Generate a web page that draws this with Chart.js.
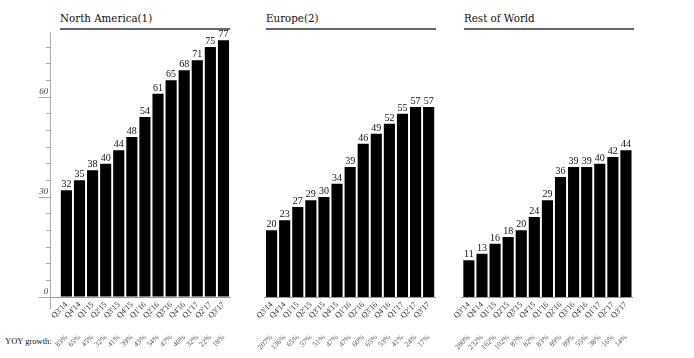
<!DOCTYPE html>
<html><head><meta charset="utf-8">
<script src="https://cdn.jsdelivr.net/npm/chart.js@4/dist/chart.umd.min.js"></script>
<style>
html,body{margin:0;padding:0;background:#fff;}
body{width:694px;height:358px;position:relative;overflow:hidden;font-family:'Liberation Serif',serif;}
canvas{position:absolute;top:0;}
.title{position:absolute;top:12px;width:170px;font-family:'DejaVu Serif',serif;font-size:10.3px;line-height:13px;color:#111;border-bottom:2px solid #666;padding-bottom:2.5px;white-space:nowrap;}
#yoy{position:absolute;left:5px;top:336px;font-size:8.5px;line-height:10px;color:#111;white-space:nowrap;}
</style></head><body>
<div class="title" style="left:60px">North America(1)</div>
<div class="title" style="left:266px">Europe(2)</div>
<div class="title" style="left:464px">Rest of World</div>
<div id="yoy">YOY growth:</div>
<canvas id="c1" width="240" height="358" style="left:0px"></canvas>
<canvas id="c2" width="210" height="358" style="left:240px"></canvas>
<canvas id="c3" width="244" height="358" style="left:450px"></canvas>
<script>
const quarters = ["Q3'14","Q4'14","Q1'15","Q2'15","Q3'15","Q4'15","Q1'16","Q2'16","Q3'16","Q4'16","Q1'17","Q2'17","Q3'17"];
const northAmerica = [32,35,38,40,44,48,54,61,65,68,71,75,77];
const europe = [20,23,27,29,30,34,39,46,49,52,55,57,57];
const restOfWorld = [11,13,16,18,20,24,29,36,39,39,40,42,44];
const yoyNorthAmerica = ["83%","65%","45%","32%","41%","39%","43%","54%","47%","40%","32%","22%","18%"];
const yoyEurope = ["207%","136%","65%","57%","51%","47%","47%","60%","65%","53%","41%","24%","17%"];
const yoyRestOfWorld = ["280%","232%","162%","102%","87%","82%","83%","89%","89%","55%","38%","16%","14%"];
const yTickLabels = [0, 30, 60];

const SERIF = "'Liberation Serif', serif";
const Y_MIN = -3.3, Y_MAX = 79.5, YOY_ROW = -10.8;

function zeroPad(s){ s.paddingLeft = 0; s.paddingRight = 0; s.paddingTop = 0; s.paddingBottom = 0; }

const valueLabels = {
  id: 'valueLabels',
  afterDatasetsDraw(chart){
    const ctx = chart.ctx;
    const meta = chart.getDatasetMeta(0);
    const ds = chart.data.datasets[0].data;
    ctx.save();
    ctx.font = '10px ' + SERIF;
    ctx.fillStyle = '#111';
    ctx.textAlign = 'center';
    ctx.textBaseline = 'alphabetic';
    meta.data.forEach((bar, i) => { ctx.fillText(String(ds[i].y), bar.x, bar.y - 3); });
    ctx.restore();
  }
};

function makeChart(id, values, yoy, xMin, padLeft, padRight, showY){
  return new Chart(document.getElementById(id), {
    type: 'bar',
    data: { datasets: [{ data: values.map((v, i) => ({x: i, y: v})), backgroundColor: '#000', borderWidth: 0, barPercentage: 0.85, categoryPercentage: 1 }] },
    options: {
      responsive: false, animation: false, events: [],
      layout: { padding: { left: showY ? 0 : padLeft, right: padRight, top: 32, bottom: 50 } },
      plugins: { legend: { display: false }, tooltip: { enabled: false } },
      scales: {
        x: {
          type: 'linear', min: xMin, max: 12.5, position: { y: 0 }, offset: false,
          grid: { display: false, drawTicks: false, offset: false },
          border: { display: true, color: '#999', width: 1 },
          ticks: { stepSize: 1, includeBounds: false, autoSkip: false, minRotation: 45, maxRotation: 45, padding: 3,
                   font: { family: SERIF, size: 8 }, color: '#333', callback: v => quarters[v] ?? '' },
          afterFit: zeroPad
        },
        x2: {
          type: 'linear', min: xMin, max: 12.5, position: { y: YOY_ROW }, offset: false,
          grid: { display: false, drawTicks: false, offset: false }, border: { display: false },
          ticks: { stepSize: 1, includeBounds: false, autoSkip: false, minRotation: 45, maxRotation: 45, padding: 0,
                   font: { family: SERIF, size: 7.5 }, color: '#555', callback: v => yoy[v] ?? '' },
          afterFit: zeroPad
        },
        y2: {
          display: showY, min: Y_MIN, max: Y_MAX, position: 'left',
          grid: { drawOnChartArea: false, tickLength: 12, color: '#aaa' },
          border: { display: true, color: '#aaa', width: 1 },
          ticks: { stepSize: 30, includeBounds: false, labelOffset: -5, padding: -9.5,
                   font: { family: SERIF, size: 9, style: 'italic' }, color: '#444',
                   callback: v => yTickLabels.includes(v) ? String(v) : '' },
          afterFit: s => { zeroPad(s); if (showY) s.width = padLeft; }
        },
        y: {
          display: showY, min: Y_MIN, max: Y_MAX, position: { x: xMin },
          grid: { drawOnChartArea: false, tickLength: 5, color: '#aaa' },
          border: { display: false },
          ticks: { stepSize: 5, includeBounds: false, callback: () => '' },
          afterFit: zeroPad
        }
      }
    },
    plugins: [valueLabels]
  });
}

makeChart('c1', northAmerica, yoyNorthAmerica, -1.2, 50.7, 10, true);
makeChart('c2', europe, yoyEurope, -0.55, 24.4, 14.8, false);
makeChart('c3', restOfWorld, yoyRestOfWorld, -0.55, 11.7, 61.5, false);
</script>
</body></html>
